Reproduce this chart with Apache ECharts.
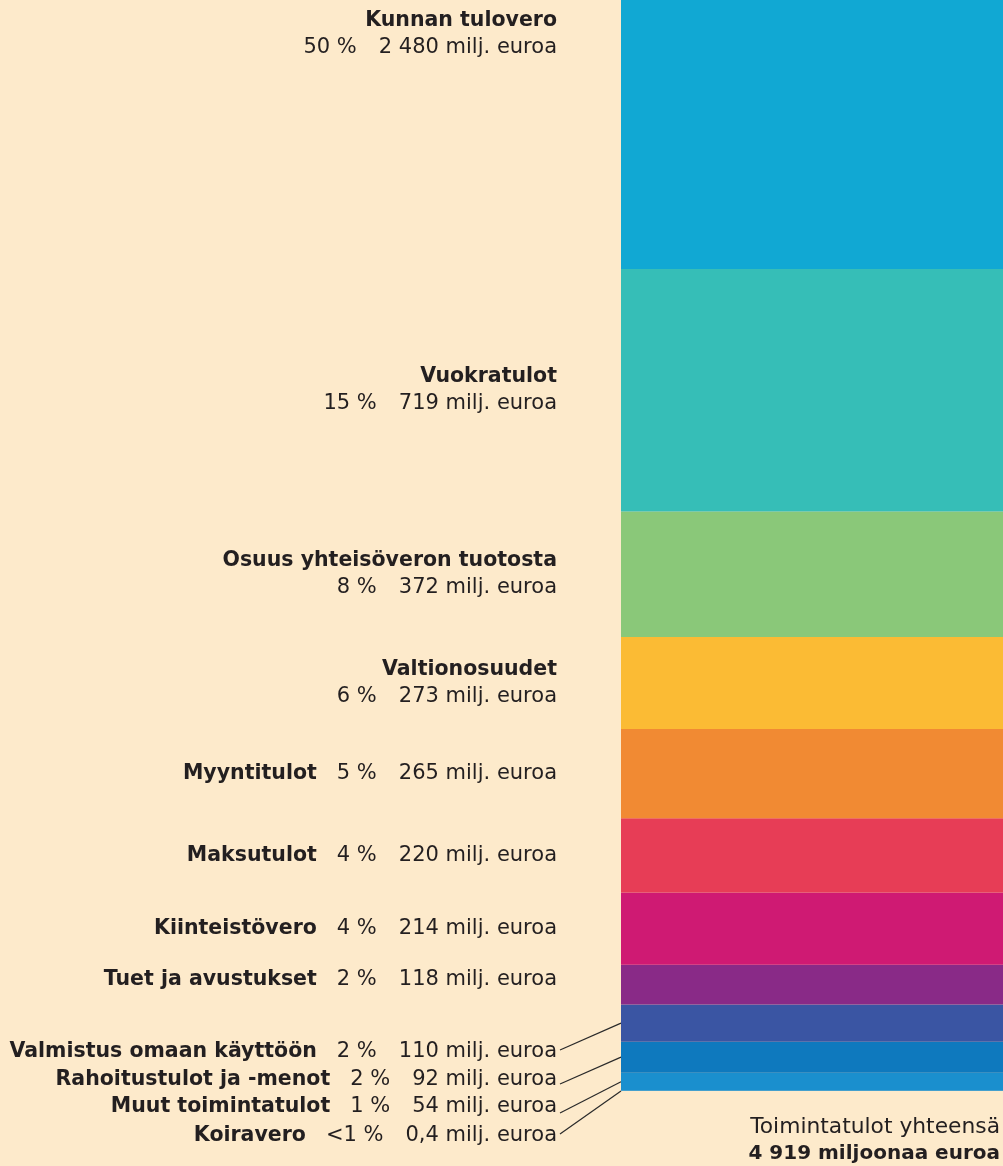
<!DOCTYPE html>
<html>
<head>
<meta charset="utf-8">
<script src="https://cdn.jsdelivr.net/npm/echarts@6/dist/echarts.min.js"></script>
<style>
html, body { margin: 0; padding: 0; background: #fdeacb; }
#box1 { width: 1003px; height: 1166px; }
</style>
</head>
<body>
<div id="box1"></div>
<script>
// tulolajit ylhäältä alas
var names = ['Kunnan tulovero', 'Vuokratulot', 'Osuus yhteisöveron tuotosta', 'Valtionosuudet',
    'Myyntitulot', 'Maksutulot', 'Kiinteistövero', 'Tuet ja avustukset',
    'Valmistus omaan käyttöön', 'Rahoitustulot ja -menot', 'Muut toimintatulot', 'Koiravero'];
var values = [2480, 719, 372, 273, 265, 220, 214, 118, 110, 92, 54, 0.4];
var pctLabels = ['50 %', '15 %', '8 %', '6 %', '5 %', '4 %', '4 %', '2 %', '2 %', '2 %', '1 %', '<1 %'];
var valueLabels = ['2 480 milj. euroa', '719 milj. euroa', '372 milj. euroa', '273 milj. euroa',
    '265 milj. euroa', '220 milj. euroa', '214 milj. euroa', '118 milj. euroa',
    '110 milj. euroa', '92 milj. euroa', '54 milj. euroa', '0,4 milj. euroa'];
var colors = ['#11a8d3', '#36beb7', '#8ac879', '#fbbb34', '#f18a33', '#e73d56', '#cf1a73',
    '#892a87', '#3a55a3', '#0e79be', '#1a8fce', '#1a8fce'];
var totalText = ['Toimintatulot yhteensä', '4 919 miljoonaa euroa'];

var FONT = '"DejaVu Sans"';
var TXT = '#231f20';
var dom = document.getElementById("box1");
var myChart = echarts.init(dom, null, { renderer: 'canvas' });

var twoLine = 4;               // neljä ensimmäistä kahdella rivillä
var smallStart = 8;            // pienet tulolajit viivojen kanssa
var smallLabelY = [1052, 1080, 1107, 1136];
var smallLineY = [1050, 1084, 1113, 1134];

function labelText(i) {
    if (i < twoLine) {
        return '{b|' + names[i] + '}\n{t|' + pctLabels[i] + '}{v|' + valueLabels[i] + '}';
    }
    return '{b|' + names[i] + '}{p|' + pctLabels[i] + '}{v|' + valueLabels[i] + '}';
}

var rich = {
    b: { fontFamily: FONT, fontWeight: 'bold', fontSize: 20.5, color: TXT, lineHeight: 27 },
    t: { fontFamily: FONT, fontSize: 21, color: TXT, lineHeight: 27 },
    p: { fontFamily: FONT, fontSize: 21, color: TXT, lineHeight: 27, padding: [0, 0, 0, 20] },
    v: { fontFamily: FONT, fontSize: 21, color: TXT, lineHeight: 27, padding: [0, 0, 0, 22] }
};

var series = [];
for (var k = names.length - 1; k >= 0; k--) {
    (function (i) {
        var label = {
            show: true,
            position: 'left',
            distance: 64,
            align: 'right',
            verticalAlign: 'middle',
            formatter: function () { return labelText(i); },
            rich: rich
        };
        if (i === 0) {
            label.position = [-64, 34];
        }
        if (i === 7) {
            label.offset = [0, -5];
        }
        var s = {
            name: names[i],
            type: 'bar',
            stack: 'tulot',
            barWidth: '100%',
            itemStyle: { color: colors[i] },
            label: label,
            data: [values[i]]
        };
        if (i >= smallStart) {
            s.labelLayout = function () {
                return { y: smallLabelY[i - smallStart] };
            };
        }
        series.push(s);
    })(k);
}

option = {
    backgroundColor: '#fdeacb',
    animation: false,
    grid: { left: 621, right: 0, top: 0, bottom: 75 },
    xAxis: { type: 'category', data: ['tulot'], show: false },
    yAxis: { type: 'value', min: 0, max: 3235, show: false, splitLine: { show: false } },
    series: series
};

if (option && typeof option === "object") {
    myChart.setOption(option, true);
}

// viivat pienten tulolajien nimistä pylvääseen
var base = 0;
var cum = [];
for (var j = names.length - 1; j >= 0; j--) {
    cum[j] = base;
    base += values[j];
}
var graphics = [];
for (var n = smallStart; n < names.length; n++) {
    var yMid = myChart.convertToPixel({ yAxisIndex: 0 }, cum[n] + values[n] / 2);
    graphics.push({
        type: 'line',
        shape: { x1: 560, y1: smallLineY[n - smallStart], x2: 621, y2: yMid },
        style: { stroke: '#2a2a2a', lineWidth: 1.2 }
    });
}
graphics.push({
    type: 'text', right: 3, top: 1116,
    style: { text: totalText[0], font: '21.8px ' + FONT, fill: TXT }
});
graphics.push({
    type: 'text', right: 3, top: 1144,
    style: { text: totalText[1], font: 'bold 20px ' + FONT, fill: TXT }
});
myChart.setOption({ graphic: graphics });
</script>
</body>
</html>
